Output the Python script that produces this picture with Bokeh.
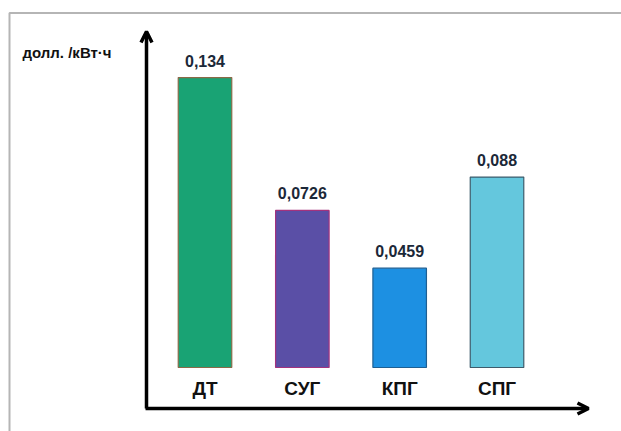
from bokeh.plotting import figure
from bokeh.models import Range1d, ColumnDataSource, Arrow, OpenHead
from bokeh.core.properties import value
from bokeh.embed import file_html
from bokeh.resources import INLINE
import numpy as np

# Fuel cost per kWh
categories = ["ДТ", "СУГ", "КПГ", "СПГ"]
values = [0.134, 0.0726, 0.0459, 0.088]
value_labels = ["0,134", "0,0726", "0,0459", "0,088"]
unit_label = "долл. /кВт·ч"

fill_colors = ["#19a374", "#5a4fa6", "#1d90e2", "#64c7dd"]
edge_colors = ["#8a6a48", "#a3327e", "#1e5f93", "#3d5c6c"]

W, H = 621, 431
FONT = value("Liberation Sans")

# data windows chosen so the frame fills the whole canvas
x_range = Range1d(-2.101, 4.279)
y_range = Range1d(-0.02957, 0.1696)


def px_x(px):
    return x_range.start + px / W * (x_range.end - x_range.start)


def px_y(py):
    return y_range.end - py / H * (y_range.end - y_range.start)


p = figure(width=W, height=H, x_range=x_range, y_range=y_range,
           output_backend="svg", toolbar_location=None,
           min_border=0, min_border_left=0, min_border_right=0,
           min_border_top=0, min_border_bottom=0)
p.xaxis.visible = False
p.yaxis.visible = False
p.grid.visible = False
p.outline_line_color = None
p.background_fill_color = "white"
p.border_fill_color = "white"

# light frame along the top and left edges
p.line(x=[px_x(9), px_x(9), px_x(700)], y=[px_y(500), px_y(12.5), px_y(12.5)],
       line_color="#b5b5b5", line_width=2)

src = ColumnDataSource(dict(
    x=np.arange(len(categories)),
    top=values,
    cat=categories,
    lab=value_labels,
    fill=fill_colors,
    edge=edge_colors,
))

p.vbar(x="x", top="top", bottom=0, width=0.55, source=src,
       fill_color="fill", line_color="edge", line_width=1.2)

p.text(x="x", y="top", text="lab", source=src, text_align="center",
       text_baseline="middle", y_offset=-17, text_font=FONT,
       text_font_style="bold", text_font_size="16px", text_color="#1b2838")

p.text(x="x", y=0, text="cat", source=src, text_align="center",
       text_baseline="middle", y_offset=21, text_font=FONT,
       text_font_style="bold", text_font_size="19px", text_color="#111111")

# axis arrows
ax_x, ax_y = px_x(146), px_y(408)
p.add_layout(Arrow(x_start=ax_x, y_start=ax_y, x_end=ax_x, y_end=px_y(31),
                   line_width=3.5, line_color="black",
                   end=OpenHead(size=11, line_width=3.5, line_color="black")))
p.add_layout(Arrow(x_start=ax_x - 0.01, y_start=ax_y, x_end=px_x(588), y_end=ax_y,
                   line_width=3.5, line_color="black",
                   end=OpenHead(size=11, line_width=3.5, line_color="black")))

p.text(x=[px_x(22)], y=[px_y(52)], text=[unit_label], text_align="left",
       text_baseline="middle", text_font=FONT,
       text_font_style="bold", text_font_size="15px", text_color="#111111")

open("out.html", "w").write(file_html(p, INLINE))
